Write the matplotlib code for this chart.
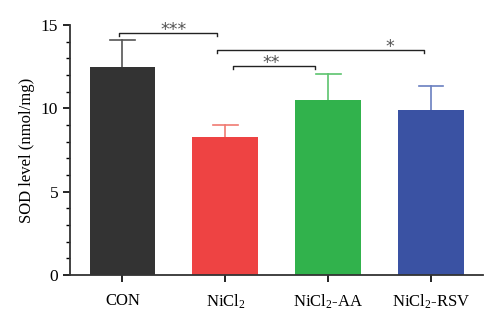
import matplotlib
matplotlib.use("Agg")
import matplotlib.pyplot as plt
from matplotlib.ticker import MultipleLocator

plt.rcParams["font.family"] = "Liberation Serif"
plt.rcParams["mathtext.default"] = "regular"

# data
groups = ["CON", "NiCl$_2$", "NiCl$_2$-AA", "NiCl$_2$-RSV"]
means = [12.5, 8.26, 10.5, 9.92]
errs = [1.6, 0.72, 1.54, 1.42]
bar_colors = ["#333333", "#ee4343", "#31b24c", "#3a52a3"]
err_colors = ["#555555", "#f07a72", "#5cc46e", "#6a7fc0"]

# significance brackets: (x1, x2, height, label, label_x, label_y)
brackets = [(-0.03, 0.92, 14.54, "***", 0.5, 14.72),
            (1.07, 1.87, 12.56, "**", 1.45, 12.72),
            (0.92, 2.93, 13.5, "*", 2.6, 13.68)]

fig, ax = plt.subplots(figsize=(5, 3.26), dpi=100)
fig.subplots_adjust(left=0.14, right=0.965, bottom=0.157, top=0.923)

x = list(range(len(groups)))
ax.bar(x, means, width=0.64, color=bar_colors, zorder=2)

# upper error bars only (stem + cap)
cap = 0.12
for i in x:
    top = means[i] + errs[i]
    ax.plot([i, i], [means[i], top], color=err_colors[i], lw=1.2, zorder=1)
    ax.plot([i - cap, i + cap], [top, top], color=err_colors[i], lw=1.2, zorder=1)

for x1, x2, h, lab, lx, ly in brackets:
    ax.plot([x1, x1, x2, x2], [h - 0.2, h, h, h - 0.2], color="#222222", lw=1.0)
    ax.text(lx, ly, lab, ha="center", va="center", fontsize=12.5,
            color="#555555", family="DejaVu Sans")

ax.set_xlim(-0.51, 3.5)
ax.set_ylim(0, 15)
ax.set_xticks(x)
ax.set_xticklabels(groups, fontsize=12)
ax.set_yticks([0, 5, 10, 15])
ax.yaxis.set_minor_locator(MultipleLocator(1))
ax.tick_params(axis="y", which="major", labelsize=12.5, length=5, width=1.2)
ax.tick_params(axis="y", which="minor", length=3, width=1.0)
ax.tick_params(axis="x", length=5, width=1.2, pad=8)
ax.set_ylabel("SOD level (nmol/mg)", fontsize=12)

ax.spines["top"].set_visible(False)
ax.spines["right"].set_visible(False)
ax.spines["left"].set_linewidth(1.3)
ax.spines["bottom"].set_linewidth(1.3)
ax.spines["left"].set_color("#333333")
ax.spines["bottom"].set_color("#333333")

fig.savefig("out.png", dpi=100)
